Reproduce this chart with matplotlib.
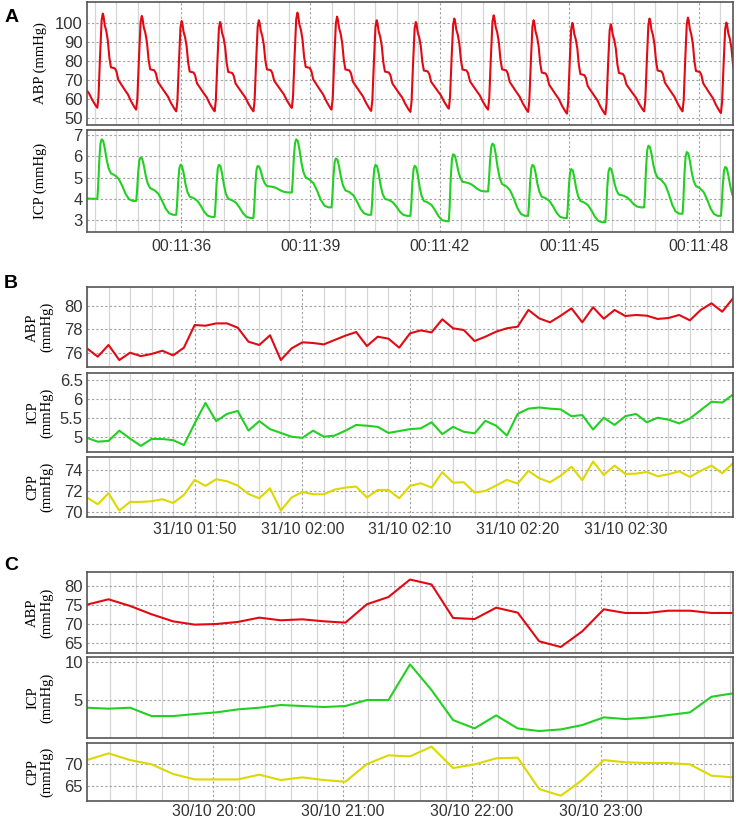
import numpy as np
import matplotlib
matplotlib.use("Agg")
import matplotlib.pyplot as plt
from matplotlib.ticker import MultipleLocator, FuncFormatter

# ---------------- panel A: waveforms, seconds after 00:11:00 ----------------
beat_onset = [33.15, 34.06, 34.96, 35.89, 36.78, 37.68, 38.57, 39.49, 40.41,
              41.32, 42.21, 43.12, 44.05, 44.95, 45.84, 46.74, 47.63, 48.52]
beat_end = 49.42

abp_start = 54.0
abp_peak = [103.0, 104.9, 103.7, 101.0, 100.5, 101.4, 105.4, 103.3, 101.4,
            100.5, 102.3, 104.0, 101.4, 100.0, 99.3, 102.3, 102.8, 100.2]
abp_trough = [55.4, 54.4, 53.5, 53.5, 53.5, 55.3, 54.4, 53.7, 53.2,
              54.9, 54.4, 53.2, 52.3, 51.9, 53.5, 53.5, 52.6, 53.0]
# one beat: phase in the beat, fraction of the swing
abp_rise_ph = [0.0, 0.03, 0.07, 0.11, 0.14]
abp_rise_fr = [0.0, 0.12, 0.55, 0.93, 1.0]
abp_fall_ph = [0.16, 0.19, 0.23, 0.27, 0.31, 0.35, 0.45, 0.49, 0.54, 0.62, 0.70, 0.79, 0.87, 0.96]
abp_fall_fr = [0.97, 0.88, 0.82, 0.72, 0.54, 0.44, 0.43, 0.40, 0.31, 0.26, 0.21, 0.156, 0.086, 0.022]

icp_start = 4.0
icp_peak = [6.0, 6.8, 5.95, 5.6, 5.6, 5.55, 6.8, 5.9, 5.6, 5.55, 6.1, 6.6, 5.6, 5.4, 5.45, 6.5, 6.2, 5.5]
icp_shoulder = [4.1, 5.2, 4.5, 4.1, 4.0, 4.6, 5.0, 4.4, 4.0, 3.9, 4.8, 4.7, 4.1, 3.9, 4.2, 5.0, 4.6, 4.0]
icp_trough = [4.0, 3.9, 3.25, 3.15, 3.1, 4.3, 3.6, 3.25, 3.2, 2.95, 4.35, 3.2, 3.1, 2.9, 3.6, 3.3, 3.2, 3.3]
icp_rise_ph = [0.0, 0.02, 0.05, 0.08, 0.11]
icp_rise_fr = [0.0, 0.2, 0.65, 0.93, 1.0]
# (phase, weight of peak, weight of shoulder), rest goes to trough
icp_fall = [(0.15, 0.96, 0.04), (0.19, 0.75, 0.25), (0.24, 0.4, 0.6), (0.29, 0.15, 0.85),
            (0.35, 0.0, 1.0), (0.45, 0.0, 0.93), (0.55, 0.0, 0.8), (0.64, 0.0, 0.55),
            (0.73, 0.0, 0.25), (0.82, 0.0, 0.06), (0.92, 0.0, 0.0)]

# ---------------- panel B: 1-min values from 31/10 01:40 ----------------
b_abp = [76.37, 75.66, 76.66, 75.37, 76.0, 75.71, 75.89, 76.17, 75.77, 76.43,
         78.37, 78.31, 78.51, 78.51, 78.14, 76.94, 76.66, 77.49, 75.37, 76.37,
         76.89, 76.83, 76.71, 77.09, 77.46, 77.77, 76.57, 77.37, 77.2, 76.43,
         77.66, 77.91, 77.74, 78.86, 78.09, 77.94, 77.0, 77.37, 77.8, 78.09,
         78.23, 79.66, 78.94, 78.6, 79.17, 79.8, 78.6, 79.89, 78.91, 79.66,
         79.14, 79.23, 79.17, 78.89, 78.97, 79.23, 78.77, 79.66, 80.23, 79.51, 80.66]
b_icp = [4.98, 4.88, 4.90, 5.17, 4.96, 4.77, 4.95, 4.95, 4.92, 4.79,
         5.36, 5.90, 5.42, 5.61, 5.69, 5.17, 5.42, 5.21, 5.11, 5.01,
         4.98, 5.17, 5.01, 5.04, 5.17, 5.32, 5.30, 5.27, 5.11, 5.16,
         5.21, 5.23, 5.39, 5.08, 5.27, 5.14, 5.10, 5.43, 5.30, 5.04,
         5.61, 5.75, 5.78, 5.75, 5.73, 5.55, 5.58, 5.20, 5.51, 5.32,
         5.55, 5.61, 5.39, 5.51, 5.46, 5.36, 5.49, 5.71, 5.93, 5.91, 6.12]
b_cpp = [71.39, 70.76, 71.80, 70.16, 70.98, 70.98, 71.04, 71.23, 70.88, 71.64,
         73.06, 72.49, 73.12, 72.93, 72.52, 71.73, 71.32, 72.27, 70.16, 71.39,
         71.92, 71.70, 71.70, 72.14, 72.33, 72.43, 71.39, 72.11, 72.11, 71.32,
         72.49, 72.74, 72.33, 73.78, 72.80, 72.83, 71.86, 72.02, 72.52, 73.06,
         72.71, 73.91, 73.21, 72.83, 73.46, 74.31, 73.02, 74.79, 73.53, 74.41,
         73.62, 73.65, 73.81, 73.40, 73.59, 73.87, 73.34, 73.91, 74.41, 73.69, 74.63]
b_minutes = np.arange(len(b_abp))  # minutes after 01:40

# ---------------- panel C: 10-min values, minutes after 30/10 19:00 ----------------
c_first = 1.3
c_abp = [75.0, 76.4, 74.65, 72.46, 70.6, 69.74, 69.9, 70.44, 71.58, 70.88,
         71.14, 70.61, 70.26, 75.1, 77.0, 81.6, 80.3, 71.5, 71.2, 74.2,
         72.9, 65.35, 63.86, 67.98, 73.77, 72.8, 72.8, 73.4, 73.4, 72.8, 72.8]
c_icp = [4.0, 3.87, 4.0, 2.91, 2.91, 3.17, 3.39, 3.78, 4.0, 4.35,
         4.22, 4.09, 4.22, 5.0, 5.0, 9.65, 6.3, 2.39, 1.3, 3.0,
         1.3, 0.96, 1.17, 1.74, 2.74, 2.52, 2.7, 3.04, 3.39, 5.43, 5.87]
c_cpp = [70.9, 72.42, 70.9, 69.92, 67.73, 66.5, 66.5, 66.5, 67.58, 66.36,
         66.97, 66.36, 65.98, 70.0, 71.97, 71.74, 73.94, 69.09, 69.92, 71.29,
         71.44, 64.32, 62.8, 66.36, 70.9, 70.38, 70.23, 70.23, 69.92, 67.35, 66.97]
c_minutes = c_first + 10 * np.arange(len(c_abp))

a_ticks = [36, 39, 42, 45, 48]
b_ticks = [10, 20, 30, 40, 50]
c_ticks = [60, 120, 180, 240]

RED = '#e10a14'
GREEN = '#22d022'
YELLOW = '#dcd800'


def build_abp():
    t, v = [], []
    start = abp_start
    ends = beat_onset[1:] + [beat_end]
    for i, t0 in enumerate(beat_onset):
        T = ends[i] - t0
        pk, tr = abp_peak[i], abp_trough[i]
        for ph, fr in zip(abp_rise_ph, abp_rise_fr):
            t.append(t0 + ph * T)
            v.append(start + (pk - start) * fr)
        for ph, fr in zip(abp_fall_ph, abp_fall_fr):
            t.append(t0 + ph * T)
            v.append(tr + (pk - tr) * fr)
        start = tr
    return t, v


def build_icp():
    t, v = [], []
    start = icp_start
    ends = beat_onset[1:] + [beat_end]
    for i, t0 in enumerate(beat_onset):
        T = ends[i] - t0
        pk, sh, tr = icp_peak[i], icp_shoulder[i], icp_trough[i]
        for ph, fr in zip(icp_rise_ph, icp_rise_fr):
            t.append(t0 + ph * T)
            v.append(start + (pk - start) * fr)
        for ph, a, b in icp_fall:
            t.append(t0 + ph * T)
            v.append(a * pk + b * sh + (1 - a - b) * tr)
        start = tr
    return t, v


fig = plt.figure(figsize=(7.4, 8.21), dpi=100)
W, H = 740.0, 821.0


def box(l, t, r, b):
    return [l / W, 1 - b / H, (r - l) / W, (b - t) / H]


def style(ax, xlim, ylim, yticks, xticks, xminor, label, fmt=None, ylabfmt=None, xpad=5):
    ax.set_xlim(*xlim)
    ax.set_ylim(*ylim)
    ax.set_yticks(yticks)
    if ylabfmt:
        ax.set_yticklabels([ylabfmt(y) for y in yticks])
    ax.set_xticks(xticks)
    ax.xaxis.set_minor_locator(MultipleLocator(xminor))
    ax.grid(which='major', color='#a0a0a0', lw=0.8, ls=(0, (2, 2)))
    ax.grid(which='minor', axis='x', color='#d6d6d6', lw=0.9, ls='-')
    ax.set_axisbelow(True)
    ax.tick_params(which='both', length=0, labelsize=12, labelcolor='#333333', pad=3)
    ax.tick_params(axis='x', pad=xpad, labelsize=11.3)
    for s in ax.spines.values():
        s.set_color('#555555')
        s.set_linewidth(1.2)
    if fmt is None:
        ax.set_xticklabels([])
    else:
        ax.xaxis.set_major_formatter(FuncFormatter(fmt))
    ax.text(-0.0728, 0.5, label, transform=ax.transAxes, rotation=90,
            ha='center', va='center', multialignment='center',
            family='Liberation Serif', fontsize=10.5, linespacing=1.1)


plt.rcParams['font.family'] = ['Liberation Sans', 'DejaVu Sans']

fmt_a = lambda x, p: "00:11:%02d" % round(x)
fmt_b = lambda x, p: "31/10 %02d:%02d" % divmod(100 + int(round(x)), 60)
fmt_c = lambda x, p: "30/10 %02d:%02d" % divmod((19 * 60 + int(round(x))) % 1440, 60)

# A
xa = (33.82, 48.8)
ax = fig.add_axes(box(87, 2, 733, 125))
ta, va = build_abp()
ax.plot(ta, va, color=RED, lw=1.5)
style(ax, xa, (46.3, 111), [50, 60, 70, 80, 90, 100], a_ticks, 0.5, 'ABP (mmHg)')
ax = fig.add_axes(box(87, 130, 733, 232))
ti, vi = build_icp()
ax.plot(ti, vi, color=GREEN, lw=1.5)
style(ax, xa, (2.44, 7.24), [3, 4, 5, 6, 7], a_ticks, 0.5, 'ICP (mmHg)', fmt=fmt_a)

# B
xb = (0, 60)
ax = fig.add_axes(box(87, 287.3, 733, 367.3))
ax.plot(b_minutes, b_abp, color=RED, lw=1.5)
style(ax, xb, (74.75, 81.6), [76, 78, 80], b_ticks, 2, 'ABP\n(mmHg)')
ax = fig.add_axes(box(87, 373.3, 733, 452.3))
ax.plot(b_minutes, b_icp, color=GREEN, lw=1.5)
style(ax, xb, (4.6, 6.68), [5, 5.5, 6, 6.5], b_ticks, 2, 'ICP\n(mmHg)',
      ylabfmt=lambda y: ('%g' % y))
ax = fig.add_axes(box(87, 456.7, 733, 516.7))
ax.plot(b_minutes, b_cpp, color=YELLOW, lw=1.5)
style(ax, xb, (69.58, 75.25), [70, 72, 74], b_ticks, 2, 'CPP\n(mmHg)', fmt=fmt_b, xpad=4)

# C
xc = (c_minutes[0], c_minutes[-1])
ax = fig.add_axes(box(87, 572.3, 733, 653.3))
ax.plot(c_minutes, c_abp, color=RED, lw=1.5)
style(ax, xc, (62.2, 83.5), [65, 70, 75, 80], c_ticks, 12, 'ABP\n(mmHg)')
ax = fig.add_axes(box(87, 657.3, 733, 737.7))
ax.plot(c_minutes, c_icp, color=GREEN, lw=1.5)
style(ax, xc, (0.09, 10.57), [5, 10], c_ticks, 12, 'ICP\n(mmHg)')
ax = fig.add_axes(box(87, 742.7, 733, 801))
ax.plot(c_minutes, c_cpp, color=YELLOW, lw=1.5)
style(ax, xc, (61.6, 74.84), [65, 70], c_ticks, 12, 'CPP\n(mmHg)', fmt=fmt_c, xpad=2.5)

for letter, (x, y) in zip("ABC", [(12, 17), (11, 283), (11, 565)]):
    fig.text(x / W, 1 - y / H, letter, fontsize=14, fontweight='bold',
             ha='center', va='center')

fig.savefig("out.png", dpi=100)
